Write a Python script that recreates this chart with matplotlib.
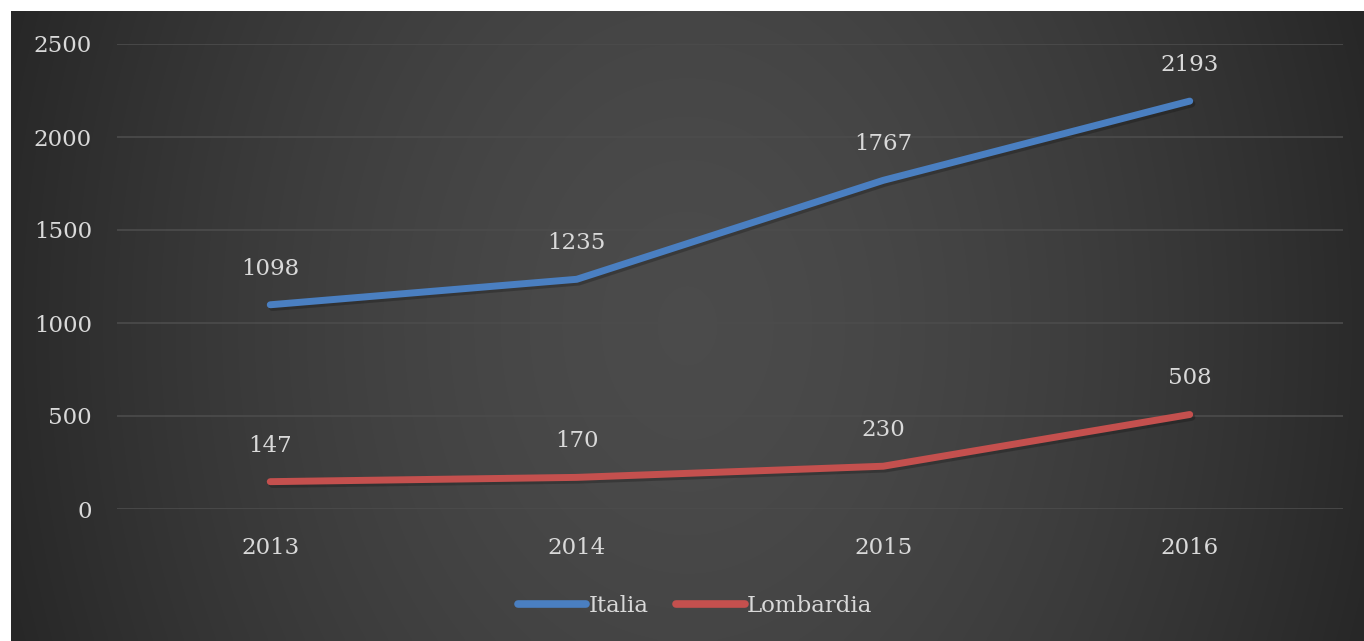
import numpy as np
import matplotlib
matplotlib.use("Agg")
import matplotlib.pyplot as plt
import matplotlib.patheffects as pe

years = ["2013", "2014", "2015", "2016"]
italia = [1098, 1235, 1767, 2193]
lombardia = [147, 170, 230, 508]
yticks = [0, 500, 1000, 1500, 2000, 2500]

W, H = 1364, 641
fig = plt.figure(figsize=(W / 100, H / 100), dpi=100)
fig.patch.set_facecolor("white")

# background gradient panel
bx0, by0 = 11, 11
bg = fig.add_axes([bx0 / W, 0, (W - bx0) / W, (H - by0) / H])
bg.set_axis_off()
nx, ny = 400, 200
xx, yy = np.meshgrid(np.linspace(-1, 1, nx), np.linspace(-1, 1, ny))
r = np.sqrt(xx ** 2 + (0.35 * yy) ** 2)
r = np.clip(r, 0, 1.1)
cval = 0.295 - (0.295 - 0.155) * (r / 1.05) ** 1.6
img = np.dstack([cval, cval, cval])
img = np.clip(img, 0, 1)
bg.imshow(img, aspect="auto", extent=[0, 1, 0, 1], interpolation="bicubic")
bg.set_xlim(0, 1)
bg.set_ylim(0, 1)

family = "DejaVu Serif"
fs = 16.5
tc = "#d9d9d9"

left, right = 117, 1343
top, bottom = 44, 509
ax = fig.add_axes([left / W, (H - bottom) / H, (right - left) / W, (bottom - top) / H])
ax.set_facecolor("none")
x = np.arange(len(years))
ax.set_xlim(-0.5, len(years) - 0.5)
ax.set_ylim(0, 2500)
ax.set_yticks(yticks)
ax.set_xticks(x)
ax.set_xticklabels(years)
for s in ax.spines.values():
    s.set_visible(False)
ax.tick_params(length=0, colors=tc, labelsize=fs)
ax.tick_params(axis="y", pad=18)
ax.tick_params(axis="x", pad=20)
for lab in ax.get_xticklabels() + ax.get_yticklabels():
    lab.set_family(family)
ax.yaxis.grid(True, color="#4c4c4c", linewidth=1.2)
ax.set_axisbelow(True)

shadow = [pe.SimpleLineShadow(offset=(1.5, -2), shadow_color="black", alpha=0.22), pe.Normal()]
l1, = ax.plot(x, italia, color="#4A7FC1", lw=5, solid_capstyle="round", path_effects=shadow, label="Italia")
l2, = ax.plot(x, lombardia, color="#C4504E", lw=5, solid_capstyle="round", path_effects=shadow, label="Lombardia")

for xs, ys in [(x, italia), (x, lombardia)]:
    for xi, yi in zip(xs, ys):
        ax.annotate(str(yi), (xi, yi), xytext=(0, 26), textcoords="offset points",
                    ha="center", va="center", color=tc, fontsize=fs, family=family)

h1, = ax.plot([], [], color="#4A7FC1", lw=5.5, solid_capstyle="round")
h2, = ax.plot([], [], color="#C4504E", lw=5.5, solid_capstyle="round")
leg = fig.legend(handles=[h1, h2], labels=["Italia", "Lombardia"], loc="center",
                 bbox_to_anchor=(695 / W, 1 - 606 / H),
                 ncol=2, frameon=False, handlelength=3.0, handletextpad=0.1,
                 columnspacing=1.2, prop={"family": family, "size": fs})
for t in leg.get_texts():
    t.set_color(tc)

fig.savefig("out.png", dpi=100, facecolor=fig.get_facecolor())
